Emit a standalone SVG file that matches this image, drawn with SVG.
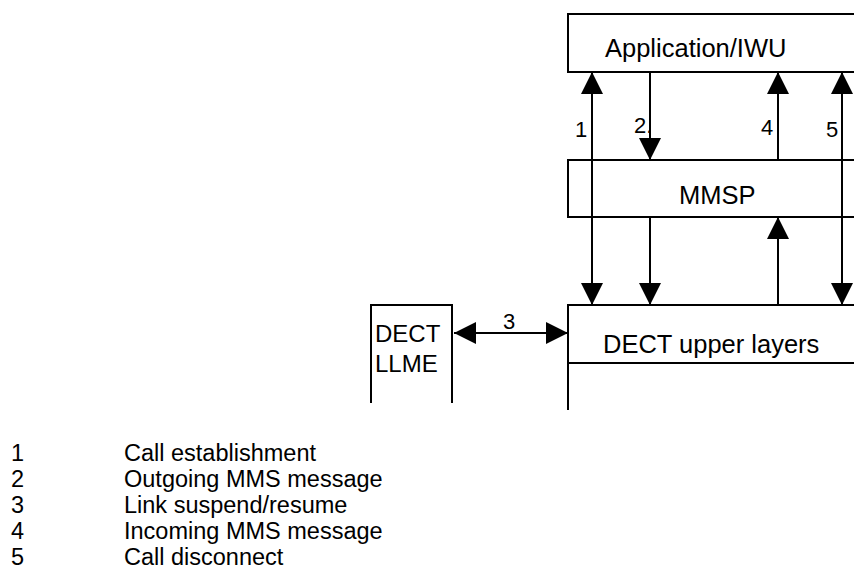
<svg xmlns="http://www.w3.org/2000/svg" width="854" height="569" viewBox="0 0 854 569">
  <defs>
    <marker id="ah" viewBox="0 0 22 22" refX="22" refY="11" markerWidth="22" markerHeight="22" markerUnits="userSpaceOnUse" orient="auto-start-reverse">
      <path d="M0,0 L22,11 L0,22 z" fill="#000"/>
    </marker>
  </defs>
  <style>
    .box { fill: #fff; stroke: #000; stroke-width: 2; }
    .ln { fill: none; stroke: #000; stroke-width: 2; }
    .conn { fill: none; stroke: #000; stroke-width: 2; }
    .one { marker-end: url(#ah); }
    .two { marker-start: url(#ah); marker-end: url(#ah); }
    text { font-family: "Liberation Sans", Arial, sans-serif; fill: #000; }
    .lbl { font-size: 25.5px; }
    .num { font-size: 22px; }
    .leg { font-size: 23.5px; }
  </style>
  <rect width="854" height="569" fill="#fff"/>

  <g id="app">
    <path class="ln" d="M856,14 H568 V72 H856"/>
    <text class="lbl" x="605" y="57">Application/IWU</text>
  </g>
  <g id="mmsp">
    <path class="ln" d="M856,160 H568 V217 H856"/>
    <text class="lbl" x="679" y="204">MMSP</text>
  </g>
  <g id="dect-upper">
    <path class="ln" d="M856,305 H568 V410 M568,363 H856"/>
    <text class="lbl" x="603" y="353">DECT upper layers</text>
  </g>
  <g id="dect-llme">
    <path class="ln" d="M371,403 V305 H452 V403"/>
    <text class="lbl" x="375" y="342" style="font-size:24px">DECT</text>
    <text class="lbl" x="375" y="372" style="font-size:24px">LLME</text>
  </g>

  <g id="connectors">
    <line class="conn two" x1="592" y1="72" x2="592" y2="305"/>
    <line class="conn one" x1="650" y1="72" x2="650" y2="160"/>
    <line class="conn one" x1="650" y1="217" x2="650" y2="305"/>
    <line class="conn one" x1="778" y1="160" x2="778" y2="72"/>
    <line class="conn one" x1="778" y1="305" x2="778" y2="217"/>
    <line class="conn two" x1="842" y1="72" x2="842" y2="305"/>
    <line class="conn two" x1="454" y1="333" x2="568" y2="333"/>
    <text class="num" x="575" y="137">1</text>
    <text class="num" x="634" y="133">2.</text>
    <text class="num" x="761" y="135">4</text>
    <text class="num" x="826" y="137">5</text>
    <text class="num" x="503" y="329">3</text>
  </g>

  <g id="legend">
    <text class="leg" x="11" y="461">1</text>
    <text class="leg" x="124" y="461">Call establishment</text>
    <text class="leg" x="11" y="487">2</text>
    <text class="leg" x="124" y="487">Outgoing MMS message</text>
    <text class="leg" x="11" y="513">3</text>
    <text class="leg" x="124" y="513">Link suspend/resume</text>
    <text class="leg" x="11" y="539">4</text>
    <text class="leg" x="124" y="539">Incoming MMS message</text>
    <text class="leg" x="11" y="565">5</text>
    <text class="leg" x="124" y="565">Call disconnect</text>
  </g>
</svg>
